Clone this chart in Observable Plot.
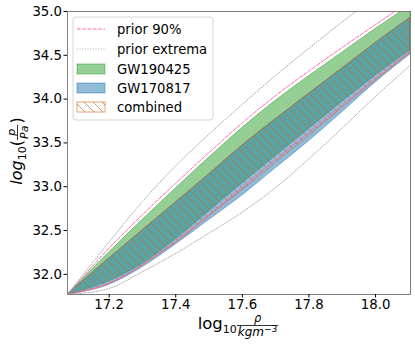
<!DOCTYPE html>
<html><head><meta charset="utf-8">
<script src="https://cdn.jsdelivr.net/npm/d3@7"></script>
<script src="https://cdn.jsdelivr.net/npm/@observablehq/plot@0.6"></script>
<style>
body{margin:0;background:#fff;}
#chart{width:415px;height:346px;}
</style></head><body><div id="chart"></div>
<script>
// log10 density grid
const rho        = [17.075, 17.2, 17.3, 17.4, 17.5, 17.6, 17.7, 17.8, 17.9, 18.0, 18.105];
// prior bounds (log10 p)
const priorMax   = [31.77, 32.37, 32.83, 33.24, 33.60, 33.94, 34.27, 34.58, 34.88, 35.17, 35.46];
const prior90Hi  = [31.77, 32.30, 32.68, 33.04, 33.39, 33.73, 34.04, 34.32, 34.59, 34.85, 35.12];
const prior90Lo  = [31.77, 31.90, 32.11, 32.38, 32.68, 32.99, 33.31, 33.62, 33.93, 34.24, 34.55];
const priorMin   = [31.77, 31.84, 32.03, 32.24, 32.47, 32.71, 32.99, 33.32, 33.67, 34.03, 34.39];
// posterior bands
const gw190425Hi = [31.77, 32.25, 32.62, 32.98, 33.33, 33.67, 33.98, 34.26, 34.53, 34.80, 35.07];
const gw190425Lo = [31.77, 31.92, 32.12, 32.40, 32.72, 33.04, 33.35, 33.66, 33.97, 34.27, 34.56];
const gw170817Hi = [31.77, 32.18, 32.50, 32.82, 33.14, 33.47, 33.77, 34.06, 34.35, 34.64, 34.93];
const gw170817Lo = [31.77, 31.88, 32.08, 32.34, 32.62, 32.90, 33.21, 33.52, 33.85, 34.19, 34.51];
const combinedHi = [31.77, 32.18, 32.50, 32.82, 33.14, 33.47, 33.77, 34.06, 34.35, 34.64, 34.93];
const combinedLo = [31.77, 31.89, 32.10, 32.36, 32.66, 32.96, 33.27, 33.58, 33.90, 34.21, 34.53];
// ticks & legend
const xTicks = [17.2, 17.4, 17.6, 17.8, 18.0];
const yTicks = [32.0, 32.5, 33.0, 33.5, 34.0, 34.5, 35.0];
const legendLabels = ["prior 90%", "prior extrema", "GW190425", "GW170817", "combined"];

const rows = rho.map((x, i) => ({
  x, pmax: priorMax[i], p90h: prior90Hi[i], p90l: prior90Lo[i], pmin: priorMin[i],
  g1h: gw190425Hi[i], g1l: gw190425Lo[i], g2h: gw170817Hi[i], g2l: gw170817Lo[i],
  ch: combinedHi[i], cl: combinedLo[i]
}));

const GREEN = "#2ca02c", BLUE = "#1f77b4", PINK = "#ff69b4", GREY = "#a8a8a8", HATCH = "#d2691e";
const FONT = "DejaVu Sans";
const curve = "monotone-x";

const svg = Plot.plot({
  width: 415, height: 346,
  marginLeft: 67, marginRight: 5, marginTop: 11, marginBottom: 52,
  style: {fontFamily: FONT, fontSize: "13.3px", color: "#000", background: "#fff"},
  x: {domain: [17.075, 18.105]},
  y: {domain: [31.77, 35.0]},
  marks: [
    Plot.areaY(rows, {x: "x", y1: "g1l", y2: "g1h", fill: GREEN, fillOpacity: 0.5, stroke: GREEN, strokeOpacity: 0.5, strokeWidth: 1, curve, clip: true}),
    Plot.areaY(rows, {x: "x", y1: "g2l", y2: "g2h", fill: BLUE, fillOpacity: 0.5, stroke: BLUE, strokeOpacity: 0.5, strokeWidth: 1, curve, clip: true}),
    Plot.areaY(rows, {x: "x", y1: "cl", y2: "ch", fill: "url(#hatch)", stroke: HATCH, strokeOpacity: 0.6, strokeWidth: 1, curve, clip: true}),
    Plot.line(rows, {x: "x", y: "p90h", stroke: PINK, strokeWidth: 1, strokeDasharray: "3.7,1.6", curve, clip: true}),
    Plot.line(rows, {x: "x", y: "p90l", stroke: PINK, strokeWidth: 1, strokeDasharray: "3.7,1.6", curve, clip: true}),
    Plot.line(rows, {x: "x", y: "pmax", stroke: GREY, strokeWidth: 1, strokeDasharray: "1,1.65", curve, clip: true}),
    Plot.line(rows, {x: "x", y: "pmin", stroke: GREY, strokeWidth: 1, strokeDasharray: "1,1.65", curve, clip: true}),
    Plot.frame({stroke: "#808080", strokeWidth: 1}),
    Plot.axisX({ticks: xTicks, tickFormat: d3.format(".1f"), tickSize: 3.5, tickPadding: 2, label: null}),
    Plot.axisY({ticks: yTicks, tickFormat: d3.format(".1f"), tickSize: 3.5, tickPadding: 2, label: null})
  ]
});
document.getElementById("chart").appendChild(svg);

const S = d3.select(svg);
// hatch pattern
const defs = S.insert("defs", ":first-child");
const pat = defs.append("pattern").attr("id", "hatch").attr("patternUnits", "userSpaceOnUse")
  .attr("width", 9).attr("height", 9);
pat.append("path").attr("d", "M-1,-1L10,10M-1,8L1,10M8,-1L10,1")
  .attr("stroke", HATCH).attr("stroke-opacity", 0.7).attr("stroke-width", 1).attr("fill", "none");

// ---- legend ----
const lg = S.append("g").attr("font-family", FONT).attr("font-size", "13.2px").attr("text-anchor", "start");
lg.append("rect").attr("x", 73).attr("y", 17).attr("width", 140).attr("height", 103).attr("rx", 3)
  .attr("fill", "#fff").attr("fill-opacity", 0.8).attr("stroke", "#d6d6d6");
const ys = [29, 49, 69, 88, 107];
legendLabels.forEach((lab, i) => {
  const y = ys[i];
  if (i === 0) lg.append("line").attr("x1", 77).attr("x2", 105).attr("y1", y).attr("y2", y)
    .attr("stroke", PINK).attr("stroke-dasharray", "3.7,1.6");
  if (i === 1) lg.append("line").attr("x1", 77).attr("x2", 105).attr("y1", y).attr("y2", y)
    .attr("stroke", GREY).attr("stroke-dasharray", "1,1.65");
  if (i === 2) lg.append("rect").attr("x", 77).attr("y", y - 5).attr("width", 28).attr("height", 10)
    .attr("fill", GREEN).attr("fill-opacity", 0.5).attr("stroke", GREEN).attr("stroke-opacity", 0.5);
  if (i === 3) lg.append("rect").attr("x", 77).attr("y", y - 5).attr("width", 28).attr("height", 10)
    .attr("fill", BLUE).attr("fill-opacity", 0.5).attr("stroke", BLUE).attr("stroke-opacity", 0.5);
  if (i === 4) lg.append("rect").attr("x", 77).attr("y", y - 5).attr("width", 28).attr("height", 10)
    .attr("fill", "url(#hatch)").attr("stroke", HATCH).attr("stroke-opacity", 0.6);
  lg.append("text").attr("x", 117).attr("y", y).attr("dy", "0.35em").text(lab);
});

// ---- math-like axis labels ----
function piece(g, x, p) {
  const t = g.append("text").attr("x", x).attr("y", p.dy || 0).attr("text-anchor", "start")
    .attr("font-size", p.size + "px").attr("font-family", FONT)
    .attr("font-style", p.it ? "italic" : "normal").text(p.t);
  return t.node().getComputedTextLength();
}
function seq(g, parts) { let x = 0; for (const p of parts) x += piece(g, x, p); return x; }
function mathLabel(parent, items) {
  const g = parent.append("g").attr("text-anchor", "start");
  let x = 0;
  for (const it of items) {
    if (it.frac) {
      const ng = g.append("g"), dg = g.append("g");
      const nw = seq(ng, it.frac.num), dw = seq(dg, it.frac.den);
      const w = Math.max(nw, dw) + 2;
      ng.attr("transform", `translate(${x + 1 + (w - 2 - nw) / 2},${it.frac.numY})`);
      dg.attr("transform", `translate(${x + 1 + (w - 2 - dw) / 2},${it.frac.denY})`);
      g.append("line").attr("x1", x).attr("x2", x + w).attr("y1", it.frac.barY).attr("y2", it.frac.barY)
        .attr("stroke", "#000").attr("stroke-width", 0.8);
      x += w + 1;
    } else {
      x += piece(g, x, it);
    }
  }
  return {g, w: x};
}
// y label: log_10(p/Pa)
const yl = mathLabel(S, [
  {t: "log", size: 16, it: true},
  {t: "10", size: 11, dy: 4},
  {t: "(", size: 16},
  {frac: {num: [{t: "p", size: 11, it: true}], den: [{t: "Pa", size: 11, it: true}], numY: -7, denY: 6, barY: -4.5}},
  {t: ")", size: 16}
]);
yl.g.attr("transform", `translate(22,${151 + yl.w / 2}) rotate(-90)`);
// x label: log_10 rho/(kgm^-3)
const xl = mathLabel(S, [
  {t: "log", size: 16.5},
  {t: "10", size: 11, dy: 4},
  {frac: {num: [{t: "ρ", size: 11.5, it: true}], den: [{t: "kgm", size: 12, it: true}, {t: "\u2212", size: 9, dy: -4}, {t: "3", size: 9, dy: -4}], numY: -7, denY: 6.5, barY: -3.5}}
]);
xl.g.attr("transform", `translate(${238.5 - xl.w / 2},329)`);
</script></body></html>
